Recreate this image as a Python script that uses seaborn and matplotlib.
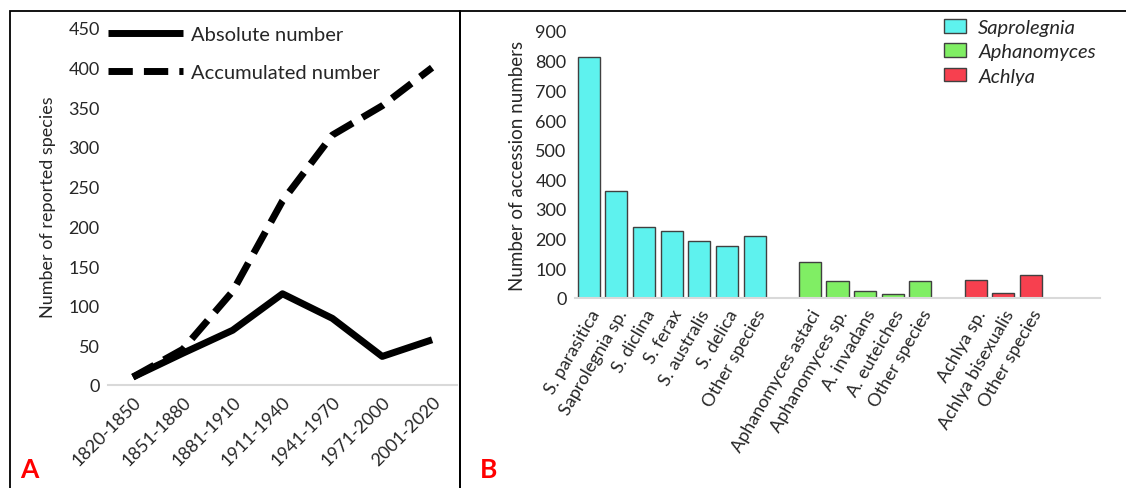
import numpy as np
import pandas as pd
import seaborn as sns
import matplotlib.pyplot as plt
from matplotlib.patches import Patch, Rectangle
from matplotlib.lines import Line2D

# ==========================================
# DATA
# ==========================================
periods = ['1820-1850', '1851-1880', '1881-1910', '1911-1940',
           '1941-1970', '1971-2000', '2001-2020']
absolute_number = [10, 40, 69, 115, 84, 36, 57]
accumulated_number = [10, 45, 118, 232, 315, 352, 400]

genera = ['Saprolegnia', 'Aphanomyces', 'Achlya']
saprolegnia_species = ['S. parasitica', 'Saprolegnia sp.', 'S. diclina', 'S. ferax',
                       'S. australis', 'S. delica', 'Other species']
saprolegnia_counts = [811, 359, 241, 225, 192, 176, 210]
aphanomyces_species = ['Aphanomyces astaci', 'Aphanomyces sp.', 'A. invadans',
                       'A. euteiches', 'Other species']
aphanomyces_counts = [123, 58, 22, 13, 58]
achlya_species = ['Achlya sp.', 'Achlya bisexualis', 'Other species']
achlya_counts = [60, 18, 79]

genus_colors = {'Saprolegnia': '#5ef2ee', 'Aphanomyces': '#80ee64', 'Achlya': '#f7404f'}

# ==========================================
# STYLE
# ==========================================
sns.set_theme(style='white')
plt.rcParams['font.family'] = ['Lato', 'DejaVu Sans']
plt.rcParams['axes.unicode_minus'] = False

fig = plt.figure(figsize=(11.26, 4.89), dpi=100)

# panel frames
fig.add_artist(Rectangle((10 / 1126, -0.1), 450 / 1126, 1.1 - 12 / 489,
                         transform=fig.transFigure, fill=False, lw=1.3, ec='black'))
fig.add_artist(Rectangle((460 / 1126, -0.1), 700 / 1126, 1.1 - 12 / 489,
                         transform=fig.transFigure, fill=False, lw=1.3, ec='black'))

# ==========================================
# PANEL A
# ==========================================
axA = fig.add_axes([108 / 1126, 1 - 386 / 489, 349 / 1126, 357 / 489])
dfA = pd.DataFrame({'period': periods,
                    'Absolute number': absolute_number,
                    'Accumulated number': accumulated_number})
sns.lineplot(data=dfA, x='period', y='Absolute number', ax=axA,
             color='black', lw=5, solid_capstyle='butt', sort=False)
sns.lineplot(data=dfA, x='period', y='Accumulated number', ax=axA,
             color='black', lw=5, dashes=False, sort=False)
axA.lines[1].set_dashes((3.5, 1.6))
axA.lines[1].set_dash_capstyle('butt')

axA.set_xlim(-0.5, len(periods) - 0.5)
axA.set_ylim(0, 450)
axA.set_yticks(np.arange(0, 451, 50))
axA.set_xticks(range(len(periods)))
axA.set_xticklabels(periods, rotation=45, ha='right', rotation_mode='anchor')
axA.tick_params(axis='both', labelsize=13, length=0, pad=6)
axA.set_xlabel('')
axA.set_ylabel('Number of reported species', fontsize=13, labelpad=9)
for s in ['top', 'right', 'left']:
    axA.spines[s].set_visible(False)
axA.spines['bottom'].set_color('#d9d9d9')
axA.spines['bottom'].set_linewidth(1.5)

handlesA = [Line2D([], [], color='black', lw=5, solid_capstyle='butt'),
            Line2D([], [], color='black', lw=5, dashes=(3.5, 1.6), dash_capstyle='butt')]
axA.legend(handlesA, ['Absolute number', 'Accumulated number'], loc='upper left',
           bbox_to_anchor=(0.0, 1.007), frameon=False, fontsize=14.5, handlelength=3.7,
           handletextpad=0.4, labelspacing=1.05, borderaxespad=0, borderpad=0)

fig.text(20 / 1126, 1 - 470 / 489, 'A', color='red', fontsize=19,
         fontweight='bold', va='center')

# ==========================================
# PANEL B
# ==========================================
groups = [(genera[0], saprolegnia_species, saprolegnia_counts),
          (genera[1], aphanomyces_species, aphanomyces_counts),
          (genera[2], achlya_species, achlya_counts)]
rows = []
pos = 0
for genus, species, counts in groups:
    for sp, c in zip(species, counts):
        rows.append({'pos': pos, 'species': sp, 'count': c, 'genus': genus})
        pos += 1
    pos += 1  # empty slot between genera
dfB = pd.DataFrame(rows)

axB = fig.add_axes([575 / 1126, 1 - 299 / 489, 525 / 1126, 267 / 489])
sns.barplot(data=dfB, x='pos', y='count', hue='genus', palette=genus_colors,
            native_scale=True, dodge=False, width=0.8, edgecolor='#404040',
            linewidth=1, saturation=1, legend=False, ax=axB)
axB.set_xlim(-0.5, 18.5)
axB.set_ylim(0, 900)
axB.set_yticks(np.arange(0, 901, 100))
axB.set_xticks(dfB['pos'])
axB.set_xticklabels(dfB['species'], rotation=60, ha='right', rotation_mode='anchor')
axB.tick_params(axis='both', labelsize=13, length=0, pad=6)
axB.set_xlabel('')
axB.set_ylabel('Number of accession numbers', fontsize=13.5, labelpad=7)
for s in ['top', 'right', 'left']:
    axB.spines[s].set_visible(False)
axB.spines['bottom'].set_color('#d9d9d9')
axB.spines['bottom'].set_linewidth(1.5)

handlesB = [Patch(facecolor=genus_colors[g], edgecolor='#404040', lw=1) for g in genera]
legB = fig.legend(handlesB, genera, loc='upper left',
                  bbox_to_anchor=(944 / 1126, 1 - 20 / 489), frameon=False,
                  fontsize=14.5, handlelength=1.1, handleheight=0.65,
                  handletextpad=0.6, labelspacing=0.36, borderaxespad=0, borderpad=0)
for t in legB.get_texts():
    t.set_fontstyle('italic')

fig.text(480 / 1126, 1 - 470 / 489, 'B', color='red', fontsize=19,
         fontweight='bold', va='center')

fig.savefig('out.png', dpi=100)
